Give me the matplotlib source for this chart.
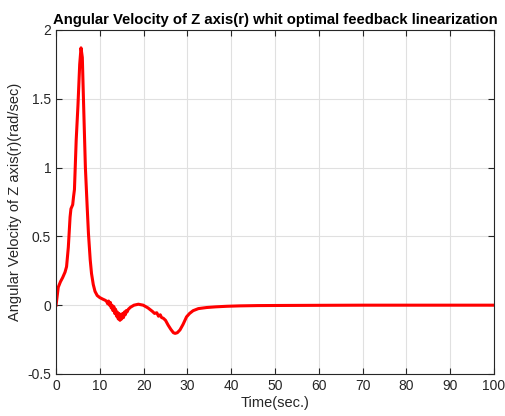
import matplotlib
matplotlib.use("Agg")
import matplotlib.pyplot as plt

plt.rcParams['font.family'] = ['Liberation Sans', 'DejaVu Sans']

# angular velocity about Z axis (rad/sec) vs time (sec)
t = [0, 0.5, 1.0, 1.5, 2.05, 2.4, 2.8, 3.2, 3.4, 3.8, 4.0, 4.2, 4.6, 5.0, 5.4, 5.7,
     6.0, 6.3, 6.7, 7.1, 7.4, 7.8, 8.1, 8.5, 8.9, 9.4, 10.0, 10.6, 11.2, 11.5,
     11.8, 12.0, 12.2, 12.4, 12.6, 12.8, 13.0, 13.2, 13.4, 13.6, 13.8, 14.0,
     14.2, 14.4, 14.6, 14.8, 15.0, 15.2, 15.4, 15.6, 15.8, 16.0, 16.2, 16.5,
     17.0, 17.8, 18.8, 19.9, 21.0, 22.0, 22.5, 23.0, 23.4, 23.8, 24.1,
     24.5, 25.0, 25.6, 26.2, 26.8, 27.2, 27.7, 28.3, 29.0, 29.8, 30.5, 31.3,
     32.5, 34.4, 36.5, 39.0, 42.0, 46.0, 52.0, 60.0, 70.0, 80.0, 90.0, 100.0]
w = [0.0, 0.13, 0.17, 0.20, 0.24, 0.28, 0.42, 0.64, 0.70, 0.73, 0.79, 0.84, 1.20, 1.45, 1.75, 1.87,
     1.80, 1.45, 1.00, 0.72, 0.52, 0.33, 0.23, 0.15, 0.10, 0.07, 0.055, 0.045, 0.036, 0.03,
     0.01, 0.03, 0.0, 0.02, -0.02, 0.0, -0.04, -0.01, -0.06, -0.03, -0.08, -0.05,
     -0.10, -0.06, -0.11, -0.07, -0.10, -0.06, -0.09, -0.05, -0.07, -0.04, -0.05, -0.03,
     -0.015, 0.0, 0.007, 0.0, -0.02, -0.045, -0.06, -0.055, -0.08, -0.07, -0.09,
     -0.095, -0.11, -0.145, -0.175, -0.2, -0.205, -0.2, -0.18, -0.14, -0.085, -0.06, -0.04,
     -0.025, -0.017, -0.012, -0.008, -0.005, -0.003, -0.002, -0.001, 0.0, 0.0, 0.0, 0.0]

xticks = list(range(0, 101, 10))
yticks = [-0.5, 0, 0.5, 1, 1.5, 2]

fig = plt.figure(figsize=(5.05, 4.16), dpi=100)
ax = fig.add_axes([0.111, 0.101, 0.867, 0.827])
ax.plot(t, w, color='#ff0000', linewidth=2.2)

ax.set_xlim(0, 100)
ax.set_ylim(-0.5, 2)
ax.set_xticks(xticks)
ax.set_yticks(yticks)
ax.set_yticklabels(['-0.5', '0', '0.5', '1', '1.5', '2'])
ax.grid(True, color='#e0e0e0', linewidth=0.8)
ax.set_axisbelow(True)
ax.tick_params(direction='in', length=4, top=True, right=True, labelsize=10,
               colors='#262626', width=0.8)
for s in ax.spines.values():
    s.set_color('#262626')
    s.set_linewidth(0.8)

ax.set_title('Angular Velocity of Z axis(r) whit optimal feedback linearization',
             fontsize=10.7, fontweight='bold', pad=4)
ax.set_xlabel('Time(sec.)', fontsize=10.5, color='#262626', labelpad=2)
ax.set_ylabel('Angular Velocity of Z axis(r)(rad/sec)', fontsize=10.5, color='#262626', labelpad=4)

fig.savefig('out.png', dpi=100)
